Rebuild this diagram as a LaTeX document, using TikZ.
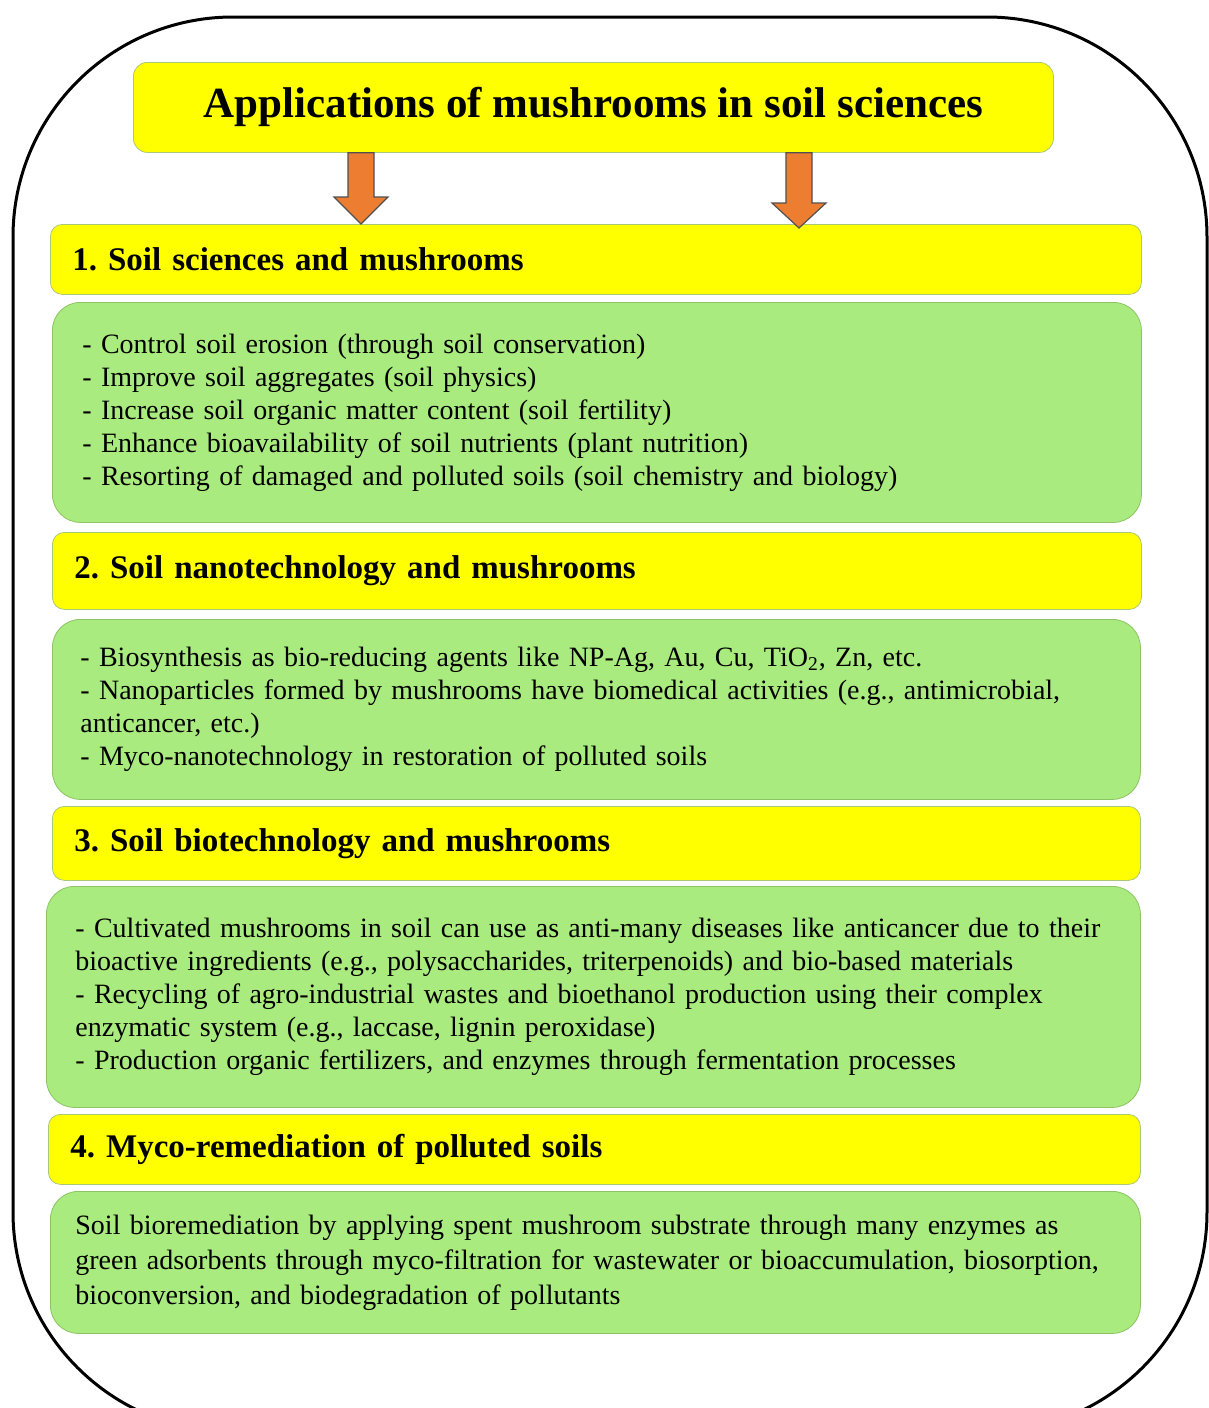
\documentclass[tikz,border=0pt]{standalone}
\usepackage{fontspec}
\setmainfont{Liberation Serif}
\usetikzlibrary{calc}

\definecolor{headyellow}{RGB}{255,255,0}
\definecolor{headedge}{RGB}{170,200,120}
\definecolor{itemgreen}{RGB}{169,235,126}
\definecolor{itemedge}{RGB}{140,195,100}
\definecolor{arrowfill}{RGB}{237,125,49}
\definecolor{arrowedge}{RGB}{80,80,80}

\begin{document}
\begin{tikzpicture}[x=0.5pt,y=-0.5pt]
	\tikzstyle{titlebox}=[draw=headedge,fill=headyellow,rounded corners=7pt,anchor=north west,inner sep=0pt,font={\fontsize{21.5}{25}\selectfont\bfseries}]
	\tikzstyle{headbox}=[draw=headedge,fill=headyellow,rounded corners=6pt,anchor=north west,align=left,inner xsep=11pt,inner ysep=0pt,font={\fontsize{16.5}{19}\selectfont\bfseries}]
	\tikzstyle{itembox}=[draw=itemedge,fill=itemgreen,rounded corners=14pt,anchor=north west,align=left,inner ysep=0pt,font={\fontsize{14}{16.5}\selectfont}]
	\tikzstyle{blockarrow}=[draw=arrowedge,fill=arrowfill,line width=0.6pt]

	\useasboundingbox (0,0) rectangle (1209,1408);
	\draw[line width=1.5pt,rounded corners=110pt] (13,17) rectangle (1207,1432);

	\node[titlebox,minimum width=460pt,minimum height=45pt] (title) at (133,62) {Applications of mushrooms in soil sciences};

	\node[headbox,text width=523.5pt,minimum height=35pt] (sec1) at (50,224) {1.\ Soil sciences and mushrooms};
	\node[itembox,inner xsep=15pt,text width=514.5pt,minimum height=110pt] (items1) at (52,302)
		{- Control soil erosion (through soil conservation)\\
		 - Improve soil aggregates (soil physics)\\
		 - Increase soil organic matter content (soil fertility)\\
		 - Enhance bioavailability of soil nutrients (plant nutrition)\\
		 - Resorting of damaged and polluted soils (soil chemistry and biology)};

	\node[headbox,text width=522.5pt,minimum height=38.5pt] (sec2) at (52,532) {2.\ Soil nanotechnology and mushrooms};
	\node[itembox,inner xsep=14pt,text width=516pt,minimum height=90pt] (items2) at (52,619)
		{- Biosynthesis as bio-reducing agents like NP-Ag, Au, Cu, TiO\textsubscript{2}, Zn, etc.\\
		 - Nanoparticles formed by mushrooms have biomedical activities (e.g., antimicrobial,\\
		 anticancer, etc.)\\
		 - Myco-nanotechnology in restoration of polluted soils};

	\node[headbox,text width=522pt,minimum height=37pt] (sec3) at (52,806) {3.\ Soil biotechnology and mushrooms};
	\node[itembox,inner xsep=14.5pt,text width=518pt,minimum height=110.5pt] (items3) at (46,886)
		{- Cultivated mushrooms in soil can use as anti-many diseases like anticancer due to their\\
		 bioactive ingredients (e.g., polysaccharides, triterpenoids) and bio-based materials\\
		 - Recycling of agro-industrial wastes and bioethanol production using their complex\\
		 enzymatic system (e.g., laccase, lignin peroxidase)\\
		 - Production organic fertilizers, and enzymes through fermentation processes};

	\node[headbox,text width=524pt,minimum height=35pt] (sec4) at (48,1114) {4.\ Myco-remediation of polluted soils};
	\node[itembox,inner xsep=12.5pt,text width=520pt,minimum height=71pt,font={\fontsize{14}{17.5}\selectfont}] (items4) at (50,1191)
		{Soil bioremediation by applying spent mushroom substrate through many enzymes as\\
		 green adsorbents through myco-filtration for wastewater or bioaccumulation, biosorption,\\
		 bioconversion, and biodegradation of pollutants};

	% arrows from the title down to the first heading
	\coordinate (arL) at (361,0);
	\coordinate (arR) at (799,0);
	\draw[blockarrow] let \p1=(title.south -| arL), \p2=(sec1.north -| arL) in
		(\x1-6.5pt,\y1) -- (\x1-6.5pt,\y2+13.5pt) -- (\x1-13.5pt,\y2+13.5pt) -- (\x1,\y2)
		-- (\x1+13.5pt,\y2+13.5pt) -- (\x1+6.5pt,\y2+13.5pt) -- (\x1+6.5pt,\y1) -- cycle;
	\draw[blockarrow] let \p1=(title.south -| arR), \p2=(sec1.north -| arR) in
		(\x1-6.5pt,\y1) -- (\x1-6.5pt,\y2+10.5pt) -- (\x1-13.5pt,\y2+10.5pt) -- (\x1,\y2-2pt)
		-- (\x1+13.5pt,\y2+10.5pt) -- (\x1+6.5pt,\y2+10.5pt) -- (\x1+6.5pt,\y1) -- cycle;
\end{tikzpicture}
\end{document}
